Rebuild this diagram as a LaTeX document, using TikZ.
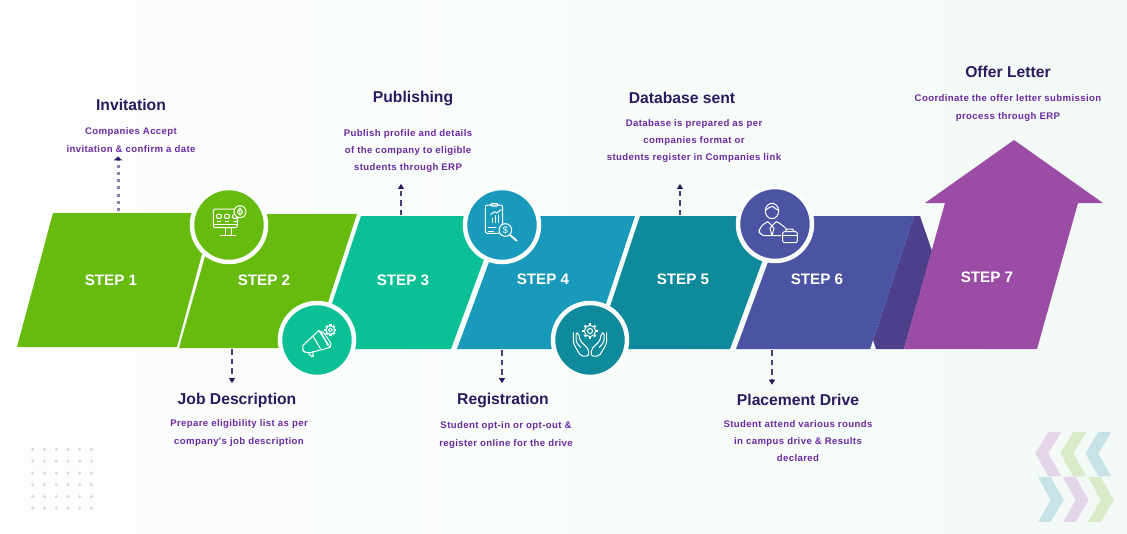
\documentclass[tikz,border=0pt]{standalone}
\usepackage{fontspec}
\setmainfont{Liberation Sans}
\newfontfamily\infofont[LetterSpace=4]{Liberation Sans}
\usetikzlibrary{arrows.meta}
\definecolor{cone}{HTML}{67BB0E}
\definecolor{cthree}{HTML}{0CC096}
\definecolor{cfour}{HTML}{1A9ABA}
\definecolor{cfive}{HTML}{0F8A9B}
\definecolor{csix}{HTML}{4B54A3}
\definecolor{cdark}{HTML}{4E3F8A}
\definecolor{cseven}{HTML}{9B4DA6}
\definecolor{headcol}{HTML}{2B1A5E}
\definecolor{infocol}{HTML}{6B2BA0}
\definecolor{ringcol}{HTML}{FBFEFC}
\definecolor{chpurple}{HTML}{E4D5EA}
\definecolor{chgreen}{HTML}{D9EBC9}
\definecolor{chblue}{HTML}{C7E3E8}
\definecolor{bgleft}{HTML}{FCFEFD}
\definecolor{bgright}{HTML}{F3FAF6}
\newcommand{\geargl}[3]{% centre x, centre y, radius
  \foreach \a in {0,45,...,315} {\draw[line width=2.4pt,white,line cap=butt] (#1,#2) ++(\a:#3*1.0) -- ++(\a:#3*0.35);}
  \draw (#1,#2) circle (#3);
  \draw (#1,#2) circle (#3*0.45);
}
\begin{document}
\begin{tikzpicture}[x=1pt, y=-1pt, node distance=153pt,
  main/.style = {text=white, font=\fontsize{15.2}{18}\selectfont\bfseries},
  head/.style = {text=headcol, font=\fontsize{15.7}{18}\selectfont\bfseries},
  info/.style = {text=infocol, align=center, inner sep=0pt, font=\infofont\fontsize{9.6}{17.2}\selectfont\bfseries},
  ring/.style = {circle, draw=ringcol, line width=4.5pt, minimum size=74pt, inner sep=0pt},
  conn/.style = {draw=headcol!85!white, line width=1.1pt, dash pattern=on 5.5pt off 4pt, -{Triangle[length=5pt,width=6pt,color=headcol]}},
  icon/.style = {draw=white, line width=1pt, line join=round, line cap=round}]
\useasboundingbox (0,0) rectangle (1127,533);
\shade[left color=bgleft, right color=bgright] (0,0) rectangle (1127,533);
% dots and chevrons in the corners
\foreach \i in {0,...,5} \foreach \j in {0,...,5}
  \fill[black!15] ({32.7+\i*11.75},{449.3+\j*11.8}) circle (1.7);
\begin{scope}[shift={(1020,420)},x=0.3333pt,y=-0.3333pt]
\foreach \d/\c in {0/chpurple,75/chgreen,150/chblue}
  \fill[\c] (85+\d,36) -- (124+\d,36) -- (85+\d,100) -- (124+\d,169) -- (85+\d,169) -- (46+\d,100) -- cycle;
\foreach \d/\c in {0/chblue,75/chpurple,150/chgreen}
  \fill[\c] (54+\d,171) -- (92+\d,171) -- (131+\d,240) -- (92+\d,306) -- (54+\d,306) -- (92+\d,240) -- cycle;
\end{scope}
% the band
\fill[cdark] (914,216) -- (920,216) -- (932,251) -- (904,349) -- (876,349) -- (873,340) -- (870,349) -- cycle;
\fill[cone] (53,213) -- (213,213) -- (177,347) -- (17,347) -- cycle;
\fill[cone] (217,214) -- (357,214) -- (313,348) -- (179,348) -- cycle;
\fill[cthree] (361,216) -- (500,216) -- (451,349) -- (317,349) -- cycle;
\fill[cfour] (506,216) -- (635,216) -- (591,349) -- (457,349) -- cycle;
\fill[cfive] (640,216) -- (779,216) -- (730,349) -- (596,349) -- cycle;
\fill[csix] (785,216) -- (914,216) -- (870,349) -- (736,349) -- cycle;
\fill[cseven] (1014,140) -- (1103,203) -- (1078,203) -- (1037,349) -- (904,349) -- (945,203) -- (925,203) -- cycle;
% labels
\node[main] (1) at (111,280) {STEP 1};
\node[main] (2) [right of=1] {STEP 2};
\node[main] (3) [right of=2, node distance=139pt] {STEP 3};
\node[main] (4) [right of=3, node distance=140pt, yshift=1pt] {STEP 4};
\node[main] (5) [right of=4, node distance=140pt] {STEP 5};
\node[main] (6) [right of=5, node distance=134pt] {STEP 6};
\node[main] (7) [right of=6, node distance=170pt, yshift=2pt] {STEP 7};
% circles
\node[ring, fill=cone] (c1) at (229,225) {};
\node[ring, fill=cthree] (c2) at (317,340) {};
\node[ring, fill=cfour] (c3) at (502,225) {};
\node[ring, fill=cfive] (c4) at (590,340) {};
\node[ring, fill=csix] (c5) at (775,224) {};
% monitor
\begin{scope}[shift={(200,195)},x=0.3333pt,y=-0.3333pt,icon]
\draw[rounded corners=2pt] (40,42) rectangle (112,98);
\draw (40,88) -- (112,88);
\draw (75,98) -- (75,118) (95,98) -- (95,118) (62,122) -- (106,122);
\foreach \x in {50,74,98} {\draw[rounded corners=1pt] (\x,58) rectangle ++(14,12); \draw (\x+3,78) -- ++(8,0);}
\filldraw[fill=cone] (120,50) circle (18);
\draw (120,38) -- (128,52) -- (120,60) -- (112,52) -- cycle (120,46) -- (120,54);
\end{scope}
% megaphone
\begin{scope}[shift={(287,310)},x=0.3333pt,y=-0.3333pt,icon]
\draw (48,106) -- (95,62) -- (130,112) -- (70,128);
\draw[rounded corners=4pt] (48,106) -- (44,118) -- (56,130) -- (70,128);
\draw (95,62) -- (110,68) -- (132,100) -- (130,112);
\draw (102,66) -- (122,106);
\draw (78,78) -- (100,116);
\draw[rounded corners=3pt] (64,128) -- (72,142) -- (82,136) -- (77,125);
\geargl{130}{60}{13}
\end{scope}
% clipboard
\begin{scope}[shift={(472,195)},x=0.3333pt,y=-0.3333pt,icon]
\draw[rounded corners=2pt] (92,86) -- (92,30) -- (40,30) -- (40,115) -- (80,115);
\draw[rounded corners=1pt] (56,26) rectangle (78,33);
\draw (60,82) -- (60,70) (70,82) -- (70,62) (80,82) -- (80,60);
\draw (56,58) -- (68,50) -- (74,54) -- (88,44);
\draw (48,98) -- (72,98) (48,110) -- (64,110);
\draw (100,105) circle (19);
\draw[line width=1.8pt] (114,120) -- (134,137);
\node[text=white, inner sep=0pt, font=\fontsize{9.5}{9.5}\selectfont] (dollar) at (100,105) {\$};
\end{scope}
% hands
\begin{scope}[shift={(560,310)},x=0.3333pt,y=-0.3333pt,icon]
\geargl{90}{63}{17}
\foreach \s/\o in {1/0,-1/180} {
  \draw[rounded corners=2pt] (\o+\s*40,68) -- (\o+\s*40,100) -- (\o+\s*62,138) -- (\o+\s*86,138) -- (\o+\s*86,118) -- (\o+\s*60,92) -- (\o+\s*56,70) -- (\o+\s*48,68) -- (\o+\s*48,96) -- (\o+\s*62,112);
}
\end{scope}
% person
\begin{scope}[shift={(745,195)},x=0.3333pt,y=-0.3333pt,icon]
\draw (81,48) ellipse (20 and 23);
\draw (62,46) .. controls (70,38) and (76,36) .. (82,34) .. controls (90,40) and (94,42) .. (100,46);
\draw[rounded corners=6pt] (108,122) -- (42,122) -- (42,96) -- (68,80);
\draw[rounded corners=6pt] (94,80) -- (112,88) -- (122,100);
\draw (68,80) -- (81,92) -- (94,80);
\draw (81,92) -- (75,100) -- (81,122) -- (87,100) -- cycle;
\draw[rounded corners=2pt] (122,110) -- (122,102) -- (146,102) -- (146,110);
\filldraw[fill=csix, rounded corners=2pt] (113,110) rectangle (157,143);
\draw (113,122) -- (157,122);
\end{scope}
% texts
\node[head] (11) at (131,105) {Invitation};
\node[info] (12) [below of=11, node distance=35pt] {Companies Accept\\invitation \& confirm a date};
\node[head] (21) at (237,400) {Job Description};
\node[info, xshift=2pt] (22) [below of=21, node distance=33pt] {Prepare eligibility list as per\\company's job description};
\node[head] (31) at (413,98) {Publishing};
\node[info, xshift=-5pt] (32) [below of=31, node distance=53pt] {Publish profile and details\\of the company to eligible\\students through ERP};
\node[head] (41) at (503,400) {Registration};
\node[info, xshift=3pt] (42) [below of=41, node distance=35pt] {Student opt-in or opt-out \&\\register online for the drive};
\node[head] (51) at (682,98) {Database sent};
\node[info, xshift=12pt] (52) [below of=51, node distance=43pt] {Database is prepared as per\\companies format or\\students register in Companies link};
\node[head] (61) at (798,400) {Placement Drive};
\node[info] (62) [below of=61, node distance=41pt] {Student attend various rounds\\in campus drive \& Results\\declared};
\node[head] (71) at (1008,72) {Offer Letter};
\node[info] (72) [below of=71, node distance=36pt] {Coordinate the offer letter submission\\process through ERP};
% connectors
\coordinate (a1) at (118,211);
\coordinate (a2) at (232,349);
\coordinate (a3) at (401,215);
\coordinate (a4) at (502,350);
\coordinate (a5) at (680,215);
\coordinate (a6) at (772,350);
\draw[conn, draw={rgb,255:red,144;green,128;blue,170}, line width=3pt, dash pattern=on 3pt off 4.2pt, shorten >=4pt, -{Triangle[length=4pt,width=8pt,color=headcol]}] (a1) -- (a1 |- 12.south);
\draw[conn, shorten >=6pt] (a2) -- (a2 |- 21.north);
\draw[conn, shorten >=11pt] (a3) -- (a3 |- 32.south);
\draw[conn, shorten >=6pt] (a4) -- (a4 |- 41.north);
\draw[conn, shorten >=21pt] (a5) -- (a5 |- 52.south);
\draw[conn, shorten >=6pt] (a6) -- (a6 |- 61.north);
\end{tikzpicture}
\end{document}
